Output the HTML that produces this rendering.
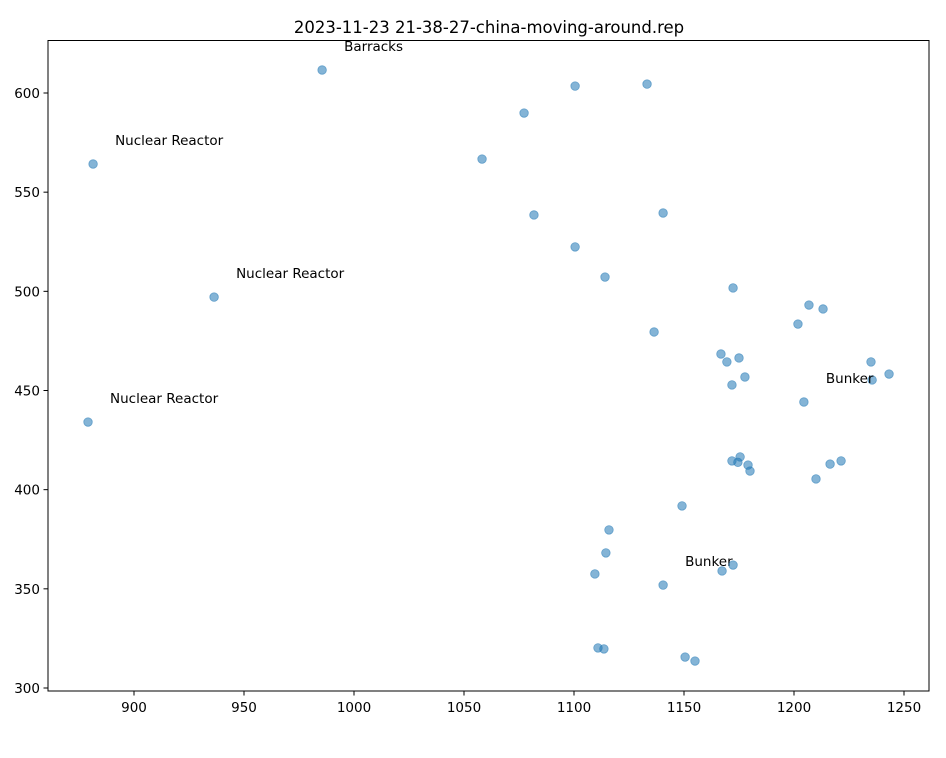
<!DOCTYPE html>
<html><head><meta charset="utf-8"><style>
body{margin:0;background:#fff;}
svg text{font-family:"DejaVu Sans","Liberation Sans",sans-serif;}
</style></head><body>
<svg id="chart" width="946" height="753" xmlns="http://www.w3.org/2000/svg">
<rect width="946" height="753" fill="#fff"/>
<text x="489" y="33" font-size="16.5" text-anchor="middle">2023-11-23 21-38-27-china-moving-around.rep</text>
<g id="plot"></g>
<rect x="48" y="40.5" width="881" height="650.5" fill="none" stroke="#000" stroke-width="1"/>
</svg>
<script>
const xs=[985.5,881.4,936.4,879.1,1100.5,1133.2,1077.3,1058.2,1081.8,1140.5,1100.5,1114.1,1172.3,1206.8,1213.2,1201.8,1136.4,1166.8,1175.0,1169.5,1235.0,1243.2,1235.5,1177.7,1171.8,1204.5,1175.5,1171.8,1174.5,1179.1,1180.0,1216.4,1221.4,1210.0,1149.1,1115.9,1114.5,1109.5,1140.5,1167.3,1172.3,1110.9,1113.6,1150.5,1155.0];
const ys=[611.6,564.2,497.1,434.1,603.5,604.5,589.9,566.7,538.5,539.5,522.4,507.2,501.7,493.1,491.1,483.5,479.5,468.4,466.4,464.4,464.4,458.3,455.3,456.8,452.8,444.2,416.5,414.5,413.8,412.4,409.4,412.9,414.5,405.4,391.8,379.7,368.1,357.5,351.9,359.0,362.0,320.2,319.7,315.6,313.6];
const labels=["Barracks","Nuclear Reactor","Nuclear Reactor","Nuclear Reactor","","","","","","","","","","","","","","","","","","","","","","Bunker","","","","","","","","","","","","","Bunker","","","","","",""];
const xTicks=[900,950,1000,1050,1100,1150,1200,1250];
const yTicks=[300,350,400,450,500,550,600];
const NS="http://www.w3.org/2000/svg";
const X=v=>134+(v-900)*2.2;
const Y=v=>93-(v-600)*1.9833;
const g=document.getElementById('plot');
function mk(t,a){const e=document.createElementNS(NS,t);for(const k in a)e.setAttribute(k,a[k]);return e;}
xTicks.forEach(v=>{
 const l=mk('line',{x1:X(v),x2:X(v),y1:691,y2:695.5,stroke:'#000'});
 
 
 g.appendChild(l);
 const t=mk('text',{x:X(v),y:712,'font-size':13.5,'text-anchor':'middle'});
 
 
 t.textContent=v;g.appendChild(t);
});
yTicks.forEach(v=>{
 const l=mk('line',{x1:43.5,x2:48,y1:Y(v),y2:Y(v),stroke:'#000'});
 
 
 g.appendChild(l);
 const t=mk('text',{x:40,y:Y(v)+5,'font-size':13.5,'text-anchor':'end'});
 
 
 t.textContent=v;g.appendChild(t);
});
xs.forEach((v,i)=>{
 const c=mk('circle',{cx:X(v),cy:Y(ys[i]),r:4.3,fill:'#1f77b4','fill-opacity':0.55,stroke:'#1f77b4','stroke-opacity':0.55,'stroke-width':0.8});
 
 
 g.appendChild(c);
 if(labels[i]){
  const t=mk('text',{x:X(v+10),y:Y(ys[i]+10)+1,'font-size':13.5});
  
  
  t.textContent=labels[i];g.appendChild(t);
 }
});
</script>
</body></html>
